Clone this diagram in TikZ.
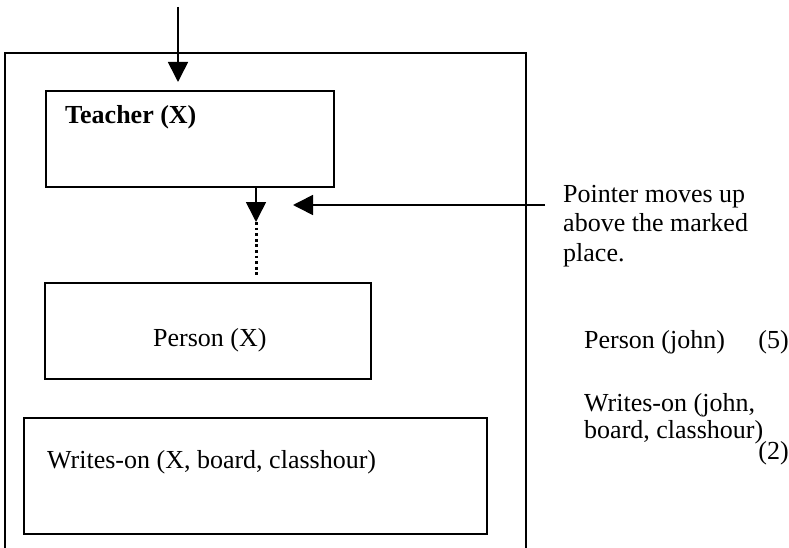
\documentclass[tikz,border=0pt]{standalone}
\usepackage{fontspec}
\setmainfont{Liberation Serif}
\usepackage{tikz}
\usetikzlibrary{arrows.meta,positioning}

\tikzset{
  box/.style={draw, line width=2pt, inner sep=0pt},
  ptr/.style={line width=1.6pt, -{Triangle[length=20pt,width=20pt]}},
  dotline/.style={line width=3pt, dash pattern=on 2.8pt off 2.8pt}
}

\begin{document}
\begin{tikzpicture}[x=1pt, y=-1pt,
    every node/.style={font=\fontsize{26}{29.5}\selectfont, inner sep=0pt}]
  \useasboundingbox (0,0) rectangle (789,548);

  % outer frame, cut off at the bottom
  \draw[line width=2pt] (5,548) |- (526,53) -- (526,548);

  \node[box, minimum width=288pt, minimum height=96pt] (teacher) at (190,139) {};
  \node[box, minimum width=326pt, minimum height=96pt] (person) at (208,331) {};
  \node[box, minimum width=463pt, minimum height=116pt] (writes) at (255.5,476) {};

  \node[anchor=base west, font=\fontsize{26}{29.5}\selectfont\bfseries]
    (teacherlbl) at (65,124) {Teacher (X)};
  \node[anchor=base west] (personlbl) at (153,346) {Person (X)};
  \node[anchor=base west] (writeslbl) at (47,468) {Writes-on (X, board, classhour)};

  % arrows
  \coordinate (entry) at (178,7);
  \draw[ptr, shorten >=8pt] (entry) -- (entry |- teacher.north);
  \coordinate (mark) at (256,222);
  \draw[ptr] (teacher.south -| mark) -- (mark);
  \draw[dotline, shorten >=5pt] (mark) -- (mark |- person.north);

  % base of a multi-line node is its last line
  \node[anchor=base west, align=left] (note) at (563,261)
    {Pointer moves up\\above the marked\\place.};
  \coordinate (ptrstart) at (545,205);
  \coordinate (ptrtip) at (293,205);
  \draw[ptr] (ptrstart) -- (ptrtip);

  % right column
  \node[anchor=base west] (john) at (584,348) {Person (john)};
  \node[anchor=base east] (five) at (789,348) {(5)};
  \node[anchor=base west, align=left, font=\fontsize{26}{26.6}\selectfont]
    (writesjohn) at (584,438.5) {Writes-on (john,\\board, classhour)};
  \node[anchor=base east] (two) at (789,459) {(2)};
\end{tikzpicture}
\end{document}
